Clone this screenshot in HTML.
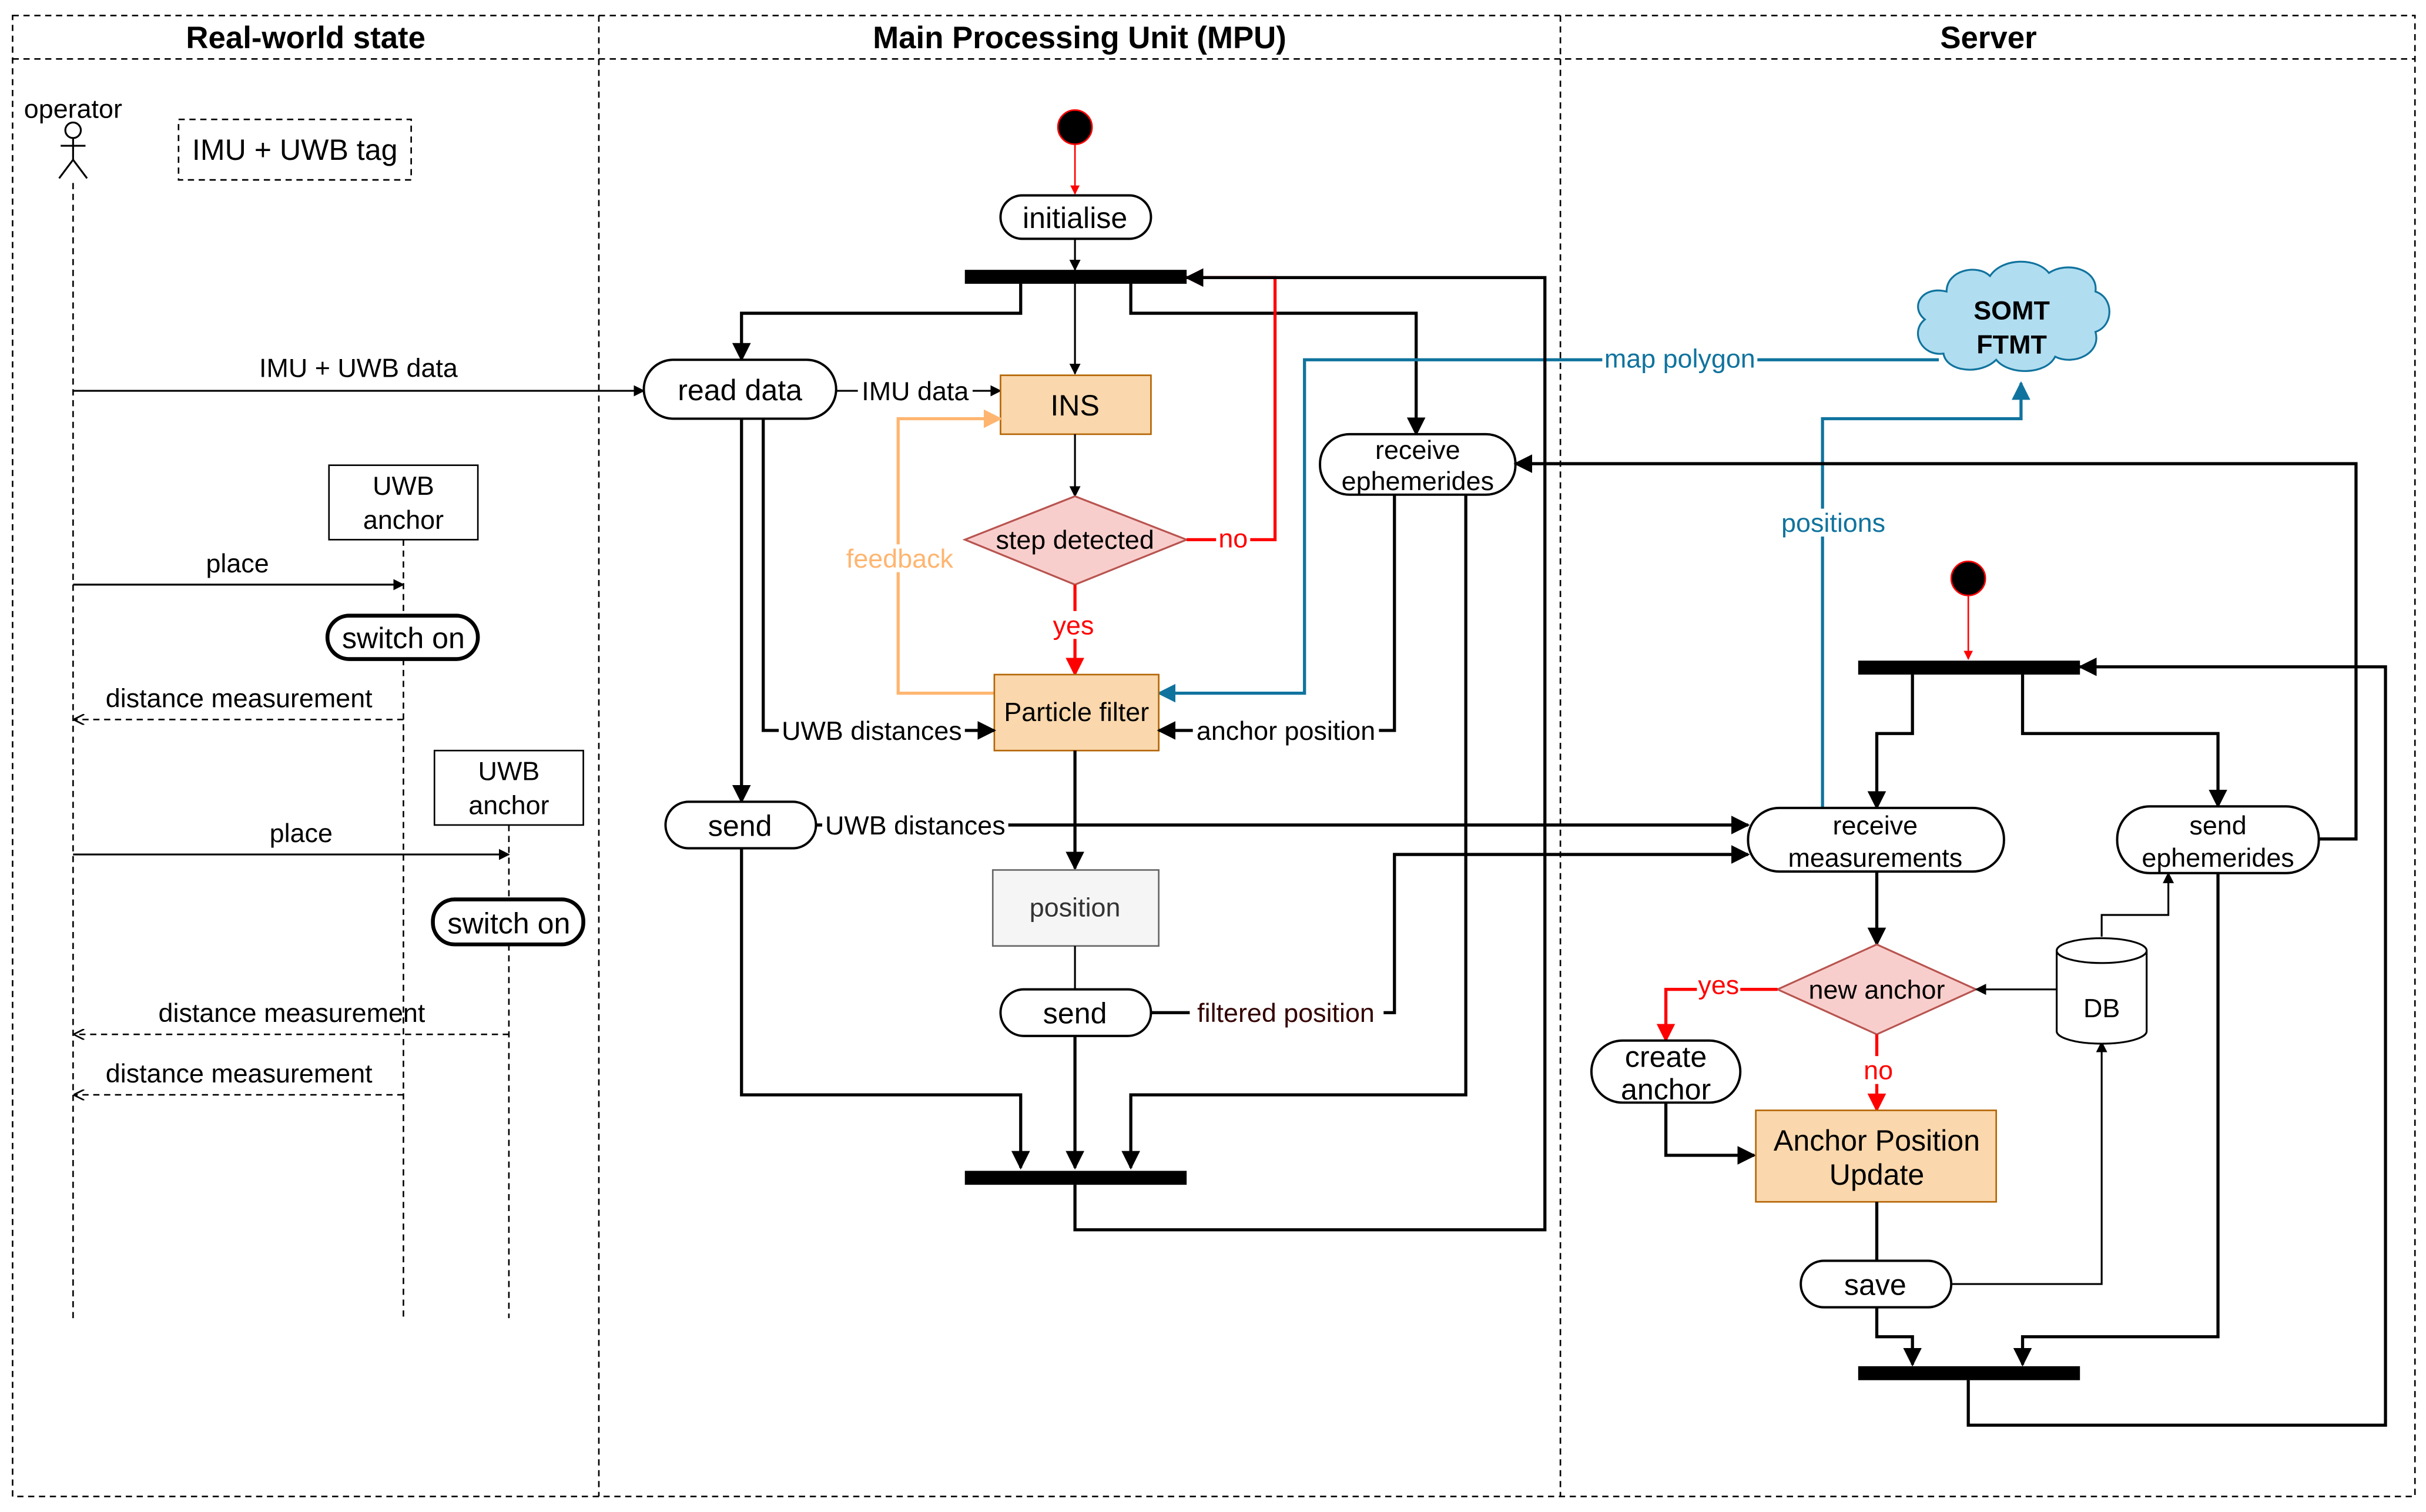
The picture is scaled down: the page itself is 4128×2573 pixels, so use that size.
<!DOCTYPE html>
<html><head><meta charset="utf-8"><style>
html,body{margin:0;padding:0;background:#fff}
svg{display:block}
text{font-family:"Liberation Sans",sans-serif;font-size:17px;fill:#000}
.h{font-size:20px;font-weight:bold}
.p{font-size:19px}
.b{fill:none;stroke:#000;stroke-width:2}
.t{fill:none;stroke:#000;stroke-width:1.2}
.d{fill:none;stroke:#000;stroke-width:1;stroke-dasharray:4 3}
.r{fill:none;stroke:#f00;stroke-width:2}
.pill{fill:#fff;stroke:#000;stroke-width:1.5}
</style></head><body>
<svg width="4128" height="2573" viewBox="0 0 1564 975" xmlns="http://www.w3.org/2000/svg">
<defs>
<marker id="a" viewBox="0 0 10 10" refX="9" refY="5" markerWidth="6" markerHeight="6" orient="auto"><path d="M0,0L10,5L0,10z" fill="#000"/></marker>
<marker id="ar" viewBox="0 0 10 10" refX="9" refY="5" markerWidth="6" markerHeight="6" orient="auto"><path d="M0,0L10,5L0,10z" fill="#f00"/></marker>
<marker id="ab" viewBox="0 0 10 10" refX="9" refY="5" markerWidth="6" markerHeight="6" orient="auto"><path d="M0,0L10,5L0,10z" fill="#10739e"/></marker>
<marker id="ao" viewBox="0 0 10 10" refX="9" refY="5" markerWidth="6" markerHeight="6" orient="auto"><path d="M0,0L10,5L0,10z" fill="#ffb570"/></marker>
<marker id="ad" viewBox="0 0 10 10" refX="9" refY="5" markerWidth="7" markerHeight="7" orient="auto"><path d="M0,0L10,5L0,10" fill="none" stroke="#000" stroke-width="1.5"/></marker>
</defs>
<!-- frame -->
<rect x="8" y="10" width="1549" height="955" class="d"/>
<line x1="8" y1="38" x2="1557" y2="38" class="d"/>
<line x1="386" y1="10" x2="386" y2="965" class="d"/>
<line x1="1006" y1="10" x2="1006" y2="965" class="d"/>
<text x="197" y="31" class="h" text-anchor="middle">Real-world state</text>
<text x="696" y="31" class="h" text-anchor="middle">Main Processing Unit (MPU)</text>
<text x="1282" y="31" class="h" text-anchor="middle">Server</text>

<!-- left lane -->
<text x="47" y="76" text-anchor="middle" font-size="16">operator</text>
<circle cx="47" cy="84" r="5" class="t"/>
<line x1="47" y1="89" x2="47" y2="103" class="t"/><line x1="39" y1="94" x2="55" y2="94" class="t"/>
<line x1="47" y1="103" x2="38" y2="115" class="t"/><line x1="47" y1="103" x2="56" y2="115" class="t"/>
<rect x="115" y="77" width="150" height="39" class="d"/>
<text x="190" y="103" text-anchor="middle" class="p">IMU + UWB tag</text>
<line x1="47" y1="118" x2="47" y2="850" class="d"/>
<line x1="47" y1="252" x2="415" y2="252" class="t" marker-end="url(#a)"/>
<text x="231" y="243" text-anchor="middle">IMU + UWB data</text>
<rect x="212" y="300" width="96" height="48" fill="#fff" stroke="#000"/>
<text x="260" y="319" text-anchor="middle">UWB</text><text x="260" y="341" text-anchor="middle">anchor</text>
<line x1="260" y1="348" x2="260" y2="397" class="d"/><line x1="260" y1="425" x2="260" y2="850" class="d"/>
<line x1="47" y1="377" x2="260" y2="377" class="t" marker-end="url(#a)"/>
<text x="153" y="369" text-anchor="middle">place</text>
<rect x="211" y="397" width="97" height="28" rx="14" fill="#fff" stroke="#000" stroke-width="2.5"/>
<text x="260" y="418" text-anchor="middle" class="p">switch on</text>
<line x1="260" y1="464" x2="48" y2="464" class="d" marker-end="url(#ad)"/>
<text x="154" y="456" text-anchor="middle">distance measurement</text>
<rect x="280" y="484" width="96" height="48" fill="#fff" stroke="#000"/>
<text x="328" y="503" text-anchor="middle">UWB</text><text x="328" y="525" text-anchor="middle">anchor</text>
<line x1="328" y1="532" x2="328" y2="580" class="d"/><line x1="328" y1="609" x2="328" y2="850" class="d"/>
<line x1="47" y1="551" x2="328" y2="551" class="t" marker-end="url(#a)"/>
<text x="194" y="543" text-anchor="middle">place</text>
<rect x="279" y="580" width="97" height="29" rx="14" fill="#fff" stroke="#000" stroke-width="2.5"/>
<text x="328" y="602" text-anchor="middle" class="p">switch on</text>
<line x1="328" y1="667" x2="48" y2="667" class="d" marker-end="url(#ad)"/>
<text x="188" y="659" text-anchor="middle">distance measurement</text>
<line x1="260" y1="706" x2="48" y2="706" class="d" marker-end="url(#ad)"/>
<text x="154" y="698" text-anchor="middle">distance measurement</text>

<!-- MPU -->
<circle cx="693" cy="82" r="11" fill="#000" stroke="#f00"/>
<line x1="693" y1="93" x2="693" y2="125" stroke="#f00" stroke-width="1" marker-end="url(#ar)"/>
<rect x="645" y="126" width="97" height="28" rx="14" class="pill"/>
<text x="693" y="147" text-anchor="middle" class="p">initialise</text>
<line x1="693" y1="154" x2="693" y2="174" class="t" marker-end="url(#a)"/>
<rect x="622" y="174" width="143" height="9" fill="#000"/>
<path d="M658,183V202H478V232" class="b" marker-end="url(#a)"/>
<path d="M693,183V241" class="t" marker-end="url(#a)"/>
<path d="M729,183V202H913V280" class="b" marker-end="url(#a)"/>
<rect x="415" y="232" width="124" height="38" rx="19" class="pill"/>
<text x="477" y="258" text-anchor="middle" class="p">read data</text>
<line x1="539" y1="252" x2="645" y2="252" class="t" marker-end="url(#a)"/>
<rect x="553" y="243" width="74" height="18" fill="#fff"/><text x="590" y="258" text-anchor="middle">IMU data</text>
<rect x="645" y="242" width="97" height="38" fill="#fad7ac" stroke="#b46504"/>
<text x="693" y="268" text-anchor="middle" class="p">INS</text>
<line x1="693" y1="280" x2="693" y2="320" class="t" marker-end="url(#a)"/>
<path d="M693,320L765,348L693,377L622,348Z" fill="#f8cecc" stroke="#b85450" stroke-width="1.2"/>
<text x="693" y="354" text-anchor="middle">step detected</text>
<path d="M765,348H822V179H765" class="r" marker-end="url(#ar)"/>
<rect x="784" y="338" width="22" height="18" fill="#fff"/><text x="795" y="353" text-anchor="middle" fill="#f00" style="fill:#f00">no</text>
<line x1="693" y1="377" x2="693" y2="435" class="r" marker-end="url(#ar)"/>
<rect x="677" y="394" width="32" height="18" fill="#fff"/><text x="692" y="409" text-anchor="middle" style="fill:#f00">yes</text>
<path d="M641,447H579V270H645" fill="none" stroke="#ffb570" stroke-width="2" marker-end="url(#ao)"/>
<rect x="545" y="351" width="72" height="18" fill="#fff"/><text x="580" y="366" text-anchor="middle" style="fill:#ffb570">feedback</text>
<path d="M1250,232H841V447H747" fill="none" stroke="#10739e" stroke-width="2" marker-end="url(#ab)"/>
<rect x="1033" y="222" width="100" height="18" fill="#fff"/><text x="1083" y="237" text-anchor="middle" style="fill:#10739e">map polygon</text>
<rect x="641" y="435" width="106" height="49" fill="#fad7ac" stroke="#b46504"/>
<text x="694" y="465" text-anchor="middle">Particle filter</text>
<rect x="851" y="280" width="126" height="39" rx="19" class="pill"/>
<text x="914" y="296" text-anchor="middle">receive</text><text x="914" y="316" text-anchor="middle">ephemerides</text>
<path d="M899,319V471H747" class="b" marker-end="url(#a)"/>
<rect x="769" y="462" width="120" height="18" fill="#fff"/><text x="829" y="477" text-anchor="middle">anchor position</text>
<path d="M492,270V471H641" class="b" marker-end="url(#a)"/>
<rect x="502" y="462" width="120" height="18" fill="#fff"/><text x="562" y="477" text-anchor="middle">UWB distances</text>
<path d="M478,270V517" class="b" marker-end="url(#a)"/>
<rect x="429" y="517" width="97" height="30" rx="15" class="pill"/>
<text x="477" y="539" text-anchor="middle" class="p">send</text>
<path d="M526,532H1127" class="b" marker-end="url(#a)"/>
<rect x="530" y="523" width="120" height="18" fill="#fff"/><text x="590" y="538" text-anchor="middle">UWB distances</text>
<path d="M478,547V706H658V753" class="b" marker-end="url(#a)"/>
<line x1="693" y1="484" x2="693" y2="560" class="b" marker-end="url(#a)"/>
<rect x="640" y="561" width="107" height="49" fill="#f5f5f5" stroke="#666"/>
<text x="693" y="591" text-anchor="middle" style="fill:#333">position</text>
<line x1="693" y1="610" x2="693" y2="638" class="t"/>
<rect x="645" y="638" width="97" height="30" rx="15" class="pill"/>
<text x="693" y="660" text-anchor="middle" class="p">send</text>
<path d="M742,653H899V551H1127" class="b" marker-end="url(#a)"/>
<rect x="767" y="644" width="125" height="18" fill="#fff"/><text x="829" y="659" text-anchor="middle" style="fill:#330000">filtered position</text>
<line x1="693" y1="668" x2="693" y2="753" class="b" marker-end="url(#a)"/>
<path d="M945,319V706H729V753" class="b" marker-end="url(#a)"/>
<rect x="622" y="755" width="143" height="9" fill="#000"/>
<path d="M693,764V793H996V179H765" class="b" marker-end="url(#a)"/>

<!-- Server -->
<path d="M1255,188c0,-14 20,-18 28,-10c8,-12 30,-12 38,-2c12,-8 32,-2 30,12c12,4 12,22 0,26c4,14 -14,22 -26,16c-6,12 -30,12 -38,2c-10,10 -32,8 -34,-4c-14,2 -22,-14 -12,-22c-10,-8 -2,-22 14,-18z" fill="#b1ddf0" stroke="#10739e" stroke-width="1.2"/>
<text x="1297" y="206" text-anchor="middle" style="font-weight:bold">SOMT</text>
<text x="1297" y="228" text-anchor="middle" style="font-weight:bold">FTMT</text>
<path d="M1175,521V270H1303V247" fill="none" stroke="#10739e" stroke-width="2" marker-end="url(#ab)"/>
<rect x="1144" y="328" width="76" height="18" fill="#fff"/><text x="1182" y="343" text-anchor="middle" style="fill:#10739e">positions</text>
<circle cx="1269" cy="373" r="11" fill="#000" stroke="#f00"/>
<line x1="1269" y1="384" x2="1269" y2="425" stroke="#f00" stroke-width="1" marker-end="url(#ar)"/>
<rect x="1198" y="426" width="143" height="9" fill="#000"/>
<path d="M1233,435V473H1210V521" class="b" marker-end="url(#a)"/>
<path d="M1304,435V473H1430V520" class="b" marker-end="url(#a)"/>
<rect x="1127" y="521" width="165" height="41" rx="20" class="pill"/>
<text x="1209" y="538" text-anchor="middle">receive</text><text x="1209" y="559" text-anchor="middle">measurements</text>
<rect x="1365" y="520" width="130" height="43" rx="21" class="pill"/>
<text x="1430" y="538" text-anchor="middle">send</text><text x="1430" y="559" text-anchor="middle">ephemerides</text>
<path d="M1495,541H1519V299H977" class="b" marker-end="url(#a)"/>
<line x1="1210" y1="562" x2="1210" y2="609" class="b" marker-end="url(#a)"/>
<path d="M1210,609L1274,638L1210,667L1146,638Z" fill="#f8cecc" stroke="#b85450" stroke-width="1.2"/>
<text x="1210" y="644" text-anchor="middle">new anchor</text>
<path d="M1146,638H1074V671" class="r" marker-end="url(#ar)"/>
<rect x="1094" y="627" width="28" height="18" fill="#fff"/><text x="1108" y="641" text-anchor="middle" style="fill:#f00">yes</text>
<line x1="1210" y1="667" x2="1210" y2="716" class="r" marker-end="url(#ar)"/>
<rect x="1199" y="681" width="24" height="18" fill="#fff"/><text x="1211" y="696" text-anchor="middle" style="fill:#f00">no</text>
<rect x="1026" y="671" width="96" height="40" rx="20" class="pill"/>
<text x="1074" y="688" text-anchor="middle" class="p">create</text><text x="1074" y="709" text-anchor="middle" class="p">anchor</text>
<path d="M1074,711V745H1131" class="b" marker-end="url(#a)"/>
<rect x="1132" y="716" width="155" height="59" fill="#fad7ac" stroke="#b46504"/>
<text x="1210" y="742" text-anchor="middle" class="p">Anchor Position</text>
<text x="1210" y="764" text-anchor="middle" class="p">Update</text>
<line x1="1210" y1="775" x2="1210" y2="813" class="b"/>
<rect x="1161" y="813" width="97" height="30" rx="15" class="pill"/>
<text x="1209" y="835" text-anchor="middle" class="p">save</text>
<path d="M1258,828H1355V672" class="t" marker-end="url(#a)"/>
<path d="M1326,613V665A29,8 0 0 0 1384,665V613A29,8 0 0 0 1326,613A29,8 0 0 0 1384,613" fill="#fff" stroke="#000" stroke-width="1.2"/>
<text x="1355" y="656" text-anchor="middle">DB</text>
<line x1="1326" y1="638" x2="1274" y2="638" class="t" marker-end="url(#a)"/>
<path d="M1355,604V590H1398V563" class="t" marker-end="url(#a)"/>
<path d="M1210,843V862H1233V880" class="b" marker-end="url(#a)"/>
<path d="M1430,563V862H1304V880" class="b" marker-end="url(#a)"/>
<rect x="1198" y="881" width="143" height="9" fill="#000"/>
<path d="M1269,890V919H1538V430H1341" class="b" marker-end="url(#a)"/>
</svg>
</body></html>
